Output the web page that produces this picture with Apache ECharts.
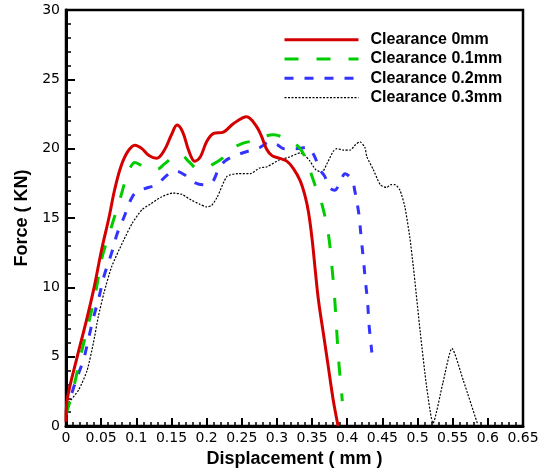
<!DOCTYPE html>
<html>
<head>
<meta charset="utf-8">
<script src="https://cdn.jsdelivr.net/npm/echarts/dist/echarts.min.js"></script>
<style>
html,body{margin:0;padding:0;background:#fff;}
#chart{width:551px;height:470px;}
</style>
</head>
<body>
<div id="chart"></div>
<script>
// Series names (legend)
var seriesNames = ['Clearance 0mm', 'Clearance 0.1mm', 'Clearance 0.2mm', 'Clearance 0.3mm'];

// Displacement (mm), Force (KN) pairs
var clearance0 = [[0,0.3],[0.002,2],[0.016,5],[0.029,7.6],[0.04,10],[0.051,12.8],[0.061,15],[0.069,17],[0.078,18.7],[0.088,19.8],[0.098,20.25],[0.108,20],[0.118,19.5],[0.129,19.3],[0.14,19.9],[0.15,21],[0.158,21.7],[0.166,21.2],[0.175,19.8],[0.183,19.1],[0.191,19.4],[0.2,20.5],[0.21,21.1],[0.224,21.2],[0.238,21.8],[0.257,22.3],[0.271,21.6],[0.278,20.9],[0.285,20.0],[0.293,19.5],[0.304,19.3],[0.314,19.1],[0.323,18.6],[0.333,17.7],[0.34,16.6],[0.345,15.4],[0.35,13.5],[0.354,11.5],[0.359,9.1],[0.366,6.7],[0.373,4.3],[0.38,1.9],[0.387,0]];

var clearance01 = [[0,0.8],[0.011,2.8],[0.021,5.1],[0.032,7.4],[0.042,9.6],[0.051,12.1],[0.063,14.1],[0.077,16.4],[0.085,17.8],[0.091,18.6],[0.098,19],[0.11,18.7],[0.12,18.5],[0.129,18.5],[0.14,18.9],[0.152,19.4],[0.162,19.6],[0.176,19],[0.186,18.6],[0.197,18.6],[0.21,18.9],[0.222,19.3],[0.233,19.9],[0.252,20.4],[0.27,20.6],[0.283,20.9],[0.295,21.0],[0.31,20.8],[0.322,20.5],[0.333,20.0],[0.339,19.5],[0.343,19.0],[0.35,18.0],[0.358,16.8],[0.364,16.0],[0.373,13.9],[0.378,11.6],[0.382,9.3],[0.385,6.9],[0.388,4.6],[0.392,2.4],[0.393,1.8]];

var clearance02 = [[0,1],[0.006,2],[0.015,3.4],[0.025,4.8],[0.032,6.3],[0.039,7.8],[0.047,9.3],[0.054,10.8],[0.065,12.5],[0.073,13.9],[0.082,15.0],[0.088,15.8],[0.094,16.5],[0.101,16.9],[0.117,17.2],[0.129,17.4],[0.144,18.1],[0.155,18.4],[0.169,18.1],[0.181,17.6],[0.195,17.4],[0.208,17.6],[0.216,18.4],[0.226,19.1],[0.246,19.6],[0.276,20.1],[0.29,20.5],[0.3,20.3],[0.31,20.0],[0.327,20.0],[0.343,20.1],[0.352,19.6],[0.361,18.5],[0.368,18.0],[0.375,17.2],[0.382,17.0],[0.39,17.6],[0.397,18.2],[0.407,17.7],[0.411,16.9],[0.415,15.8],[0.417,15.1],[0.42,13.5],[0.423,12.0],[0.426,10.4],[0.429,8.9],[0.431,7.3],[0.434,5.8],[0.435,5.3]];

var clearance03 = [[0,1.5],[0.004,1.7],[0.018,2.6],[0.03,4.0],[0.039,6.0],[0.046,7.9],[0.054,9.6],[0.065,11.5],[0.082,13.4],[0.094,14.6],[0.108,15.6],[0.12,16.0],[0.135,16.5],[0.152,16.8],[0.165,16.7],[0.178,16.3],[0.19,16.0],[0.2,15.8],[0.207,15.9],[0.215,16.5],[0.229,18.0],[0.245,18.2],[0.262,18.2],[0.275,18.6],[0.286,18.7],[0.304,19.2],[0.318,19.4],[0.333,19.7],[0.34,19.5],[0.347,19.1],[0.355,18.5],[0.364,18.3],[0.372,19.0],[0.38,19.8],[0.385,20.0],[0.395,19.9],[0.404,19.9],[0.412,20.3],[0.418,20.5],[0.425,20.1],[0.428,19.4],[0.437,18.5],[0.447,17.4],[0.456,17.2],[0.462,17.4],[0.468,17.4],[0.475,17.0],[0.482,15.8],[0.489,13.6],[0.494,11.5],[0.504,6.7],[0.513,2.8],[0.522,0.2],[0.536,3.1],[0.549,5.6],[0.565,3.3],[0.585,0.2]];

// Axis tick values
var xTicks = [0,0.05,0.1,0.15,0.2,0.25,0.3,0.35,0.4,0.45,0.5,0.55,0.6,0.65];
var yTicks = [0,5,10,15,20,25,30];

var seriesData = [clearance0, clearance01, clearance02, clearance03];
var styles = [
  {color:'#d40000', width:3, type:'solid', smooth:0.35},
  {color:'#00cc00', width:3, type:[14,18], smooth:0.35},
  {color:'#3333ff', width:3, type:[9,11], smooth:0.35},
  {color:'#000000', width:1.2, type:[2,1.5], smooth:0.2}
];

var chart = echarts.init(document.getElementById('chart'), null, {renderer:'canvas'});

function fmt(v){
  var r = Math.round(v*100)/100;
  return String(r);
}

var option = {
  animation: false,
  backgroundColor: '#fff',
  grid: {left:66, right:28, top:10, bottom:44, show:true, borderColor:'#000', borderWidth:2.5, containLabel:false, outerBoundsMode:'none'},
  legend: {
    orient:'vertical', left:283, top:30, padding:0,
    itemWidth:74, itemHeight:14, itemGap:0,
    inactiveColor:'#000',
    textStyle:{fontFamily:'Liberation Sans, Arial, sans-serif', fontWeight:'bold', fontSize:16, color:'#000', lineHeight:19.3, padding:[0,0,0,7]},
    data: seriesNames.map(function(n,i){
      return {name:n, itemStyle:{opacity:0}, lineStyle:{color:styles[i].color, width:styles[i].width, type:styles[i].type, opacity:1}};
    })
  },
  xAxis: {
    type:'value', min:0, max:0.65, interval:0.05,
    name:'Displacement ( mm )', nameLocation:'middle', nameGap:12,
    nameTextStyle:{fontFamily:'Liberation Sans, Arial, sans-serif', fontWeight:'bold', fontSize:18, color:'#000'},
    axisLine:{show:true, onZero:false, lineStyle:{color:'#000', width:3}},
    axisTick:{show:true, inside:true, length:8, lineStyle:{color:'#000', width:2}},
    minorTick:{show:true, splitNumber:5, length:4, lineStyle:{color:'#000', width:1.5}},
    splitLine:{show:false},
    axisLabel:{margin:5, fontFamily:'DejaVu Sans, sans-serif', fontSize:14, color:'#000',
      formatter:function(v){ for (var i=0;i<xTicks.length;i++){ if (Math.abs(xTicks[i]-v)<1e-9) return fmt(xTicks[i]); } return ''; }}
  },
  yAxis: {
    type:'value', min:0, max:30, interval:5,
    name:'Force ( KN)', nameLocation:'middle', nameGap:26, nameRotate:90,
    nameTextStyle:{fontFamily:'Liberation Sans, Arial, sans-serif', fontWeight:'bold', fontSize:18, color:'#000'},
    axisLine:{show:true, onZero:false, lineStyle:{color:'#000', width:3}},
    axisTick:{show:true, inside:true, length:9, lineStyle:{color:'#000', width:2}},
    minorTick:{show:true, splitNumber:5, length:5, lineStyle:{color:'#000', width:1.5}},
    splitLine:{show:false},
    axisLabel:{margin:6, fontFamily:'DejaVu Sans, sans-serif', fontSize:14, color:'#000',
      formatter:function(v){ return yTicks.indexOf(v) >= 0 ? String(v) : ''; }}
  },
  series: seriesData.map(function(d,i){
    return {
      name: seriesNames[i], type:'line', data:d,
      symbol:'none', showSymbol:false, smooth:styles[i].smooth,
      lineStyle:{color:styles[i].color, width:styles[i].width, type:styles[i].type, cap:'butt'},
      itemStyle:{color:styles[i].color},
      z: 4-i
    };
  })
};
chart.setOption(option);
</script>
</body>
</html>
